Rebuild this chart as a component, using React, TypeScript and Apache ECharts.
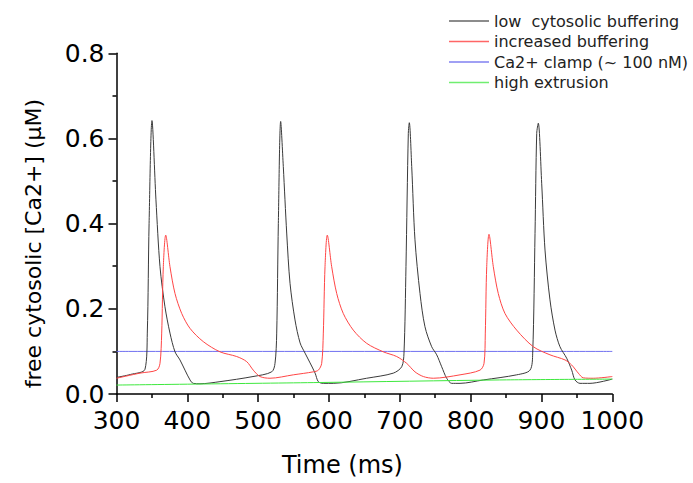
import React, { useEffect, useRef } from "react";
import * as echarts from "echarts";

const seriesNames = [
  "low  cytosolic buffering",
  "increased buffering",
  "Ca2+ clamp (~ 100 nM)",
  "high extrusion",
];

const lowBuffering: [number, number][] = [
  [300, 0.039], [320, 0.046], [340.2, 0.058], [343.5, 0.143], [346, 0.4], [350.1, 0.642],
  [355.7, 0.456], [361.4, 0.299], [368.4, 0.205], [375.5, 0.143], [382.6, 0.099], [389.6, 0.08],
  [396.7, 0.056], [403.8, 0.033], [408.4, 0.025], [417.9, 0.024], [446.1, 0.029], [492.7, 0.041],
  [519.1, 0.052], [523.8, 0.072], [526.2, 0.143], [528.5, 0.4], [531.8, 0.64], [535.5, 0.534],
  [540.3, 0.378], [545, 0.26], [552, 0.174], [559.2, 0.12], [566.2, 0.096], [573.3, 0.073],
  [580.4, 0.049], [584.9, 0.029], [592, 0.025], [606, 0.025], [653.2, 0.037], [690.8, 0.049],
  [702.7, 0.064], [705.9, 0.096], [708.7, 0.299], [712, 0.612], [713.4, 0.637], [716.8, 0.534],
  [721.4, 0.362], [728.5, 0.236], [735.5, 0.158], [745, 0.111], [752.1, 0.092], [759.1, 0.064],
  [766.2, 0.037], [773.3, 0.025], [785, 0.025], [817.9, 0.033], [865, 0.045], [883.8, 0.056],
  [887.6, 0.096], [890.9, 0.377], [893.3, 0.612], [895.5, 0.636], [900.3, 0.495], [905, 0.338],
  [912, 0.221], [919.1, 0.15], [926.1, 0.111], [935.6, 0.084], [942.7, 0.056], [947.3, 0.033],
  [954.4, 0.025], [968.5, 0.025], [1000, 0.035],
];

const increasedBuffering: [number, number][] = [
  [300, 0.037], [333.2, 0.049], [356.8, 0.056], [361.4, 0.072], [363.8, 0.143], [366.1, 0.299],
  [369.5, 0.373], [375.5, 0.299], [382.6, 0.236], [392.1, 0.189], [403.8, 0.154], [422.5, 0.123],
  [446.1, 0.099], [469.7, 0.088], [483.8, 0.076], [493.1, 0.056], [502.6, 0.041], [516.7, 0.037],
  [549.6, 0.045], [577.8, 0.052], [585, 0.056], [589.7, 0.072], [592, 0.143], [594.4, 0.299],
  [597.6, 0.373], [603.8, 0.299], [610.9, 0.236], [620.2, 0.189], [634.3, 0.15], [653.2, 0.119],
  [676.7, 0.099], [695.6, 0.088], [709.7, 0.072], [721.4, 0.052], [733.2, 0.041], [747.3, 0.037],
  [785, 0.045], [813.2, 0.056], [818.9, 0.072], [820.7, 0.143], [822.7, 0.299], [825.9, 0.375],
  [832, 0.299], [839, 0.236], [848.5, 0.189], [865, 0.15], [888.5, 0.111], [912, 0.092],
  [933.2, 0.08], [942.7, 0.068], [952, 0.049], [959, 0.038], [973.2, 0.037], [1000, 0.041],
];

const clamp: [number, number][] = [
  [300, 0.1], [1000, 0.1],
];

const highExtrusion: [number, number][] = [
  [300, 0.021], [587, 0.027], [841, 0.033], [1000, 0.035],
];

const seriesColors = ["#3a3a3a", "#ff4545", "#7070f0", "#3ee83e"];
const legendColors = ["#666666", "#ff6666", "#8080f0", "#70ee70"];

const FONT = "DejaVu Sans";

export default function App() {
  const ref = useRef<HTMLDivElement>(null);
  useEffect(() => {
    if (!ref.current) return;
    const chart = echarts.init(ref.current, null, { renderer: "svg" });
    const datasets = [lowBuffering, increasedBuffering, clamp, highExtrusion];
    chart.setOption({
      animation: false,
      backgroundColor: "#ffffff",
      grid: { left: 116.5, right: 80.7, top: 53.3, bottom: 89 },
      legend: {
        orient: "vertical",
        left: 444,
        top: 8,
        itemWidth: 40,
        itemHeight: 1.5,
        itemGap: 4.5,
        data: seriesNames.map((n, i) => ({
          name: n,
          icon: "rect",
          itemStyle: { color: legendColors[i] },
        })),
        textStyle: { fontFamily: FONT, fontSize: 16, color: "#222", lineHeight: 16 },
      },
      xAxis: {
        type: "value",
        min: 300,
        max: 1000,
        interval: 100,
        name: "Time (ms)",
        nameLocation: "middle",
        nameGap: 59,
        nameTextStyle: { fontFamily: FONT, fontSize: 24, color: "#000", padding: [0, 44, 0, 0] },
        axisLine: { show: true, lineStyle: { color: "#000", width: 1.5 } },
        axisTick: { show: true, inside: false, length: 8, lineStyle: { color: "#000", width: 1.5 } },
        minorTick: { show: true, splitNumber: 2, length: 4, lineStyle: { color: "#000", width: 1.5 } },
        axisLabel: {
          fontFamily: FONT,
          fontSize: 25,
          color: "#000",
          margin: 14,
          formatter: (v: number) => String(v),
        },
        splitLine: { show: false },
      },
      yAxis: {
        type: "value",
        min: 0,
        max: 0.8,
        interval: 0.2,
        name: "free cytosolic [Ca2+] (µM)",
        nameLocation: "middle",
        nameGap: 72,
        nameTextStyle: { fontFamily: FONT, fontSize: 22, color: "#000", padding: [0, 40, 0, 0] },
        axisLine: { show: true, lineStyle: { color: "#000", width: 1.5 } },
        axisTick: { show: true, inside: false, length: 8, lineStyle: { color: "#000", width: 1.5 } },
        minorTick: { show: true, splitNumber: 2, length: 4, lineStyle: { color: "#000", width: 1.5 } },
        axisLabel: {
          fontFamily: FONT,
          fontSize: 25,
          color: "#000",
          margin: 12,
          formatter: (v: number) => v.toFixed(1),
        },
        splitLine: { show: false },
      },
      series: seriesNames.map((n, i) => ({
        name: n,
        type: "line",
        data: datasets[i],
        showSymbol: false,
        symbol: "none",
        smooth: 0.3,
        lineStyle: { color: seriesColors[i], width: 1 },
        itemStyle: { color: seriesColors[i] },
        z: i === 2 ? 1 : 2,
      })),
    });
    return () => chart.dispose();
  }, []);
  return (
    <div
      ref={ref}
      style={{ position: "absolute", left: 0, top: 0, width: 693, height: 483, background: "#fff" }}
    />
  );
}
